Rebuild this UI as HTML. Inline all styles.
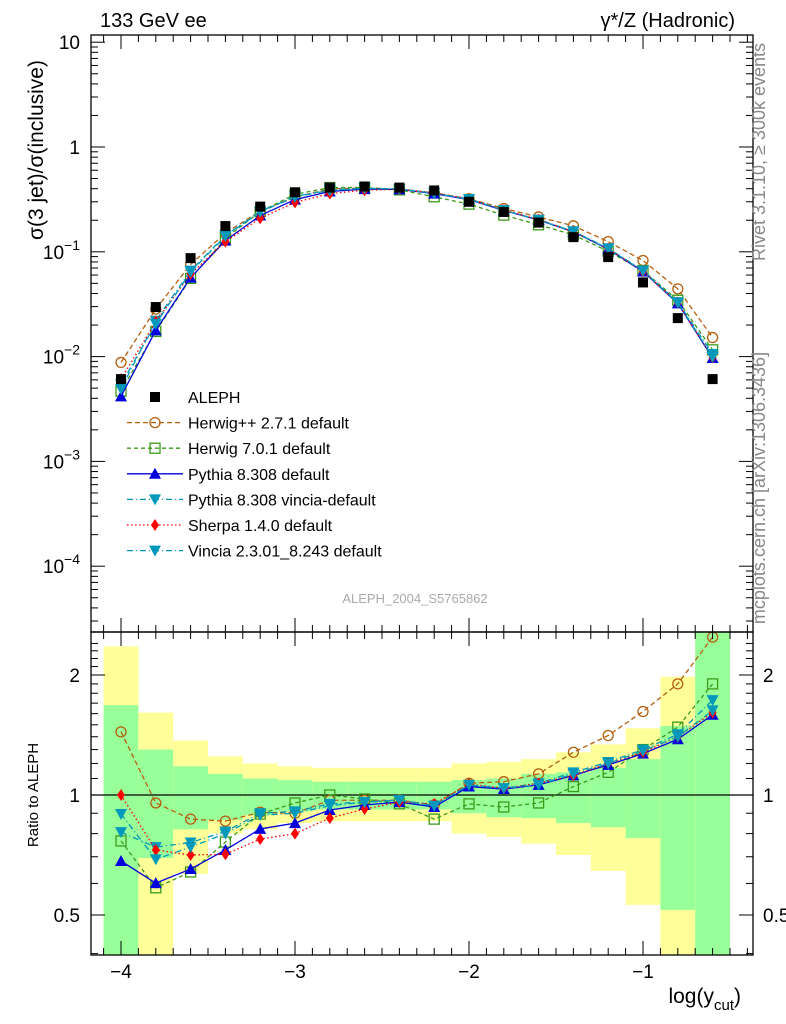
<!DOCTYPE html>
<html><head><meta charset="utf-8"><style>
body{margin:0;background:#fff}
svg{display:block;font-family:"Liberation Sans",sans-serif}
</style></head><body>
<svg id="c" width="786" height="1024"></svg>
<script>
const xs=[-4,-3.8,-3.6,-3.4,-3.2,-3.0,-2.8,-2.6,-2.4,-2.2,-2.0,-1.8,-1.6,-1.4,-1.2,-1.0,-0.8,-0.6];
const aleph=[0.0061,0.0297,0.087,0.176,0.27,0.37,0.41,0.42,0.41,0.385,0.30,0.24,0.19,0.138,0.089,0.051,0.0233,0.0061];
const herwigpp=[0.0088,0.0284,0.0757,0.151,0.244,0.333,0.398,0.407,0.398,0.364,0.321,0.259,0.215,0.177,0.125,0.0826,0.0443,0.0152];
const herwig7=[0.00468,0.0174,0.0558,0.134,0.242,0.353,0.41,0.41,0.39,0.335,0.285,0.224,0.181,0.145,0.101,0.0663,0.0345,0.0116];
const pythia=[0.00417,0.0178,0.0567,0.128,0.222,0.315,0.376,0.396,0.394,0.359,0.315,0.248,0.201,0.155,0.106,0.0648,0.0322,0.0097];
const pvincia=[0.00492,0.022,0.0661,0.143,0.243,0.337,0.39,0.403,0.398,0.362,0.318,0.25,0.203,0.157,0.108,0.0663,0.0331,0.0106];
const sherpa=[0.0061,0.0216,0.0615,0.125,0.209,0.296,0.359,0.387,0.394,0.366,0.32,0.25,0.203,0.155,0.107,0.0653,0.0326,0.0098];
const vincia=[0.00547,0.0205,0.0644,0.141,0.240,0.333,0.385,0.403,0.398,0.362,0.318,0.25,0.201,0.156,0.107,0.0658,0.0326,0.0099];
const rHerwigpp=[1.44,0.955,0.87,0.86,0.905,0.9,0.97,0.97,0.97,0.945,1.07,1.08,1.13,1.28,1.41,1.62,1.90,2.49];
const rHerwig7=[0.767,0.585,0.641,0.762,0.896,0.955,1.0,0.977,0.95,0.87,0.95,0.933,0.955,1.05,1.14,1.30,1.48,1.90];
const rPythia=[0.683,0.601,0.652,0.728,0.822,0.85,0.917,0.944,0.96,0.933,1.05,1.035,1.06,1.12,1.19,1.27,1.38,1.59];
const rPvincia=[0.807,0.74,0.76,0.81,0.90,0.91,0.95,0.96,0.97,0.94,1.06,1.04,1.07,1.14,1.21,1.30,1.42,1.73];
const rSherpa=[1.0,0.728,0.707,0.71,0.775,0.80,0.875,0.922,0.96,0.95,1.065,1.04,1.07,1.12,1.2,1.28,1.40,1.61];
const rVincia=[0.896,0.69,0.74,0.80,0.89,0.90,0.94,0.96,0.97,0.94,1.06,1.04,1.06,1.13,1.20,1.29,1.40,1.63];
const statUp=[1.68,1.30,1.18,1.13,1.10,1.09,1.08,1.08,1.08,1.08,1.09,1.10,1.13,1.14,1.17,1.23,1.49,3.0];
const statDn=[0.3,0.695,0.82,0.866,0.89,0.91,0.92,0.92,0.92,0.92,0.90,0.88,0.875,0.85,0.83,0.78,0.515,0.3];
const totUp=[2.36,1.61,1.37,1.25,1.20,1.18,1.17,1.17,1.17,1.17,1.20,1.21,1.23,1.28,1.34,1.47,1.98,3.0];
const totDn=[0.3,0.3,0.634,0.80,0.82,0.85,0.86,0.86,0.86,0.86,0.80,0.785,0.755,0.707,0.645,0.53,0.3,0.3];
const xTicks=[-4,-3,-2,-1];
const xTickLabels=["\u22124","\u22123","\u22122","\u22121"];

const L=91,R=753,T=35,MB=632,B=955;
const X=v=>121+(v+4)*174;
const Y=v=>147-104.8*Math.log10(v);
const RY=v=>795-398.6*Math.log10(v);
const svg=document.getElementById('c');
const NS='http://www.w3.org/2000/svg';
function mk(tag,at,parent){const e=document.createElementNS(NS,tag);for(const k in at)e.setAttribute(k,at[k]);(parent||svg).appendChild(e);return e;}
function txt(s,at,parent){const e=mk('text',at,parent);e.textContent=s;return e;}

const gb=mk('g',{});


xs.forEach((x,i)=>{
  const x0=Math.max(X(x-0.1),L),x1=Math.min(X(x+0.1),R);
  const clip=v=>Math.min(Math.max(v,MB),B);
  const ty=clip(RY(totUp[i])),tb=clip(RY(totDn[i]));
  const y=mk('rect',{x:x0,y:ty,width:x1-x0,height:tb-ty,fill:'#ffff99'},gb);
  
  
  const sy=clip(RY(statUp[i])),sb=clip(RY(statDn[i]));
  const g=mk('rect',{x:x0,y:sy,width:x1-x0,height:sb-sy,fill:'#99ff99'},gb);
  
  
});
mk('line',{x1:L,x2:R,y1:RY(1),y2:RY(1),stroke:'#000','stroke-width':1.3});

function marker(type,cx,cy,col,parent){
  const s=5;
  if(type==='sq') return mk('rect',{x:cx-s,y:cy-s,width:2*s,height:2*s,fill:'#000'},parent);
  if(type==='osq') return mk('rect',{x:cx-s,y:cy-s,width:2*s,height:2*s,fill:'none',stroke:col,'stroke-width':1.3},parent);
  if(type==='oc') return mk('circle',{cx,cy,r:s,fill:'none',stroke:col,'stroke-width':1.3},parent);
  if(type==='tu') return mk('polygon',{points:`${cx},${cy-6} ${cx-6},${cy+5} ${cx+6},${cy+5}`,fill:col},parent);
  if(type==='td') return mk('polygon',{points:`${cx},${cy+6} ${cx-6},${cy-5} ${cx+6},${cy-5}`,fill:col},parent);
  if(type==='dm') return mk('polygon',{points:`${cx},${cy-6} ${cx-4},${cy} ${cx},${cy+6} ${cx+4},${cy}`,fill:col},parent);
}
const series=[
 {name:'herwigpp',label:'Herwig++ 2.7.1 default',d:herwigpp,r:rHerwigpp,col:'#b5600f',dash:'5,3',m:'oc'},
 {name:'herwig7',label:'Herwig 7.0.1 default',d:herwig7,r:rHerwig7,col:'#3a9a1a',dash:'4,3',m:'osq'},
 {name:'pythia',label:'Pythia 8.308 default',d:pythia,r:rPythia,col:'#0000dd',dash:'',m:'tu'},
 {name:'pythia-vincia',label:'Pythia 8.308 vincia-default',d:pvincia,r:rPvincia,col:'#0099bb',dash:'6,3,1,3',m:'td'},
 {name:'sherpa',label:'Sherpa 1.4.0 default',d:sherpa,r:rSherpa,col:'#ff0000',dash:'1.5,2.5',m:'dm'},
 {name:'vincia',label:'Vincia 2.3.01_8.243 default',d:vincia,r:rVincia,col:'#0099bb',dash:'6,3,1,3',m:'td'}
];
series.forEach(s=>{
  const g=mk('g',{});
  
  
  const att={fill:'none',stroke:s.col,'stroke-width':1.3};if(s.dash)att['stroke-dasharray']=s.dash;
  mk('polyline',Object.assign({points:xs.map((x,i)=>X(x)+','+Y(s.d[i])).join(' ')},att),g);
  mk('polyline',Object.assign({points:xs.map((x,i)=>X(x)+','+RY(s.r[i])).join(' ')},att),g);
  xs.forEach((x,i)=>{
    const p=marker(s.m,X(x),Y(s.d[i]),s.col,g);
    
    
    const q=marker(s.m,X(x),RY(s.r[i]),s.col,g);
    
    
  });
});
const ga=mk('g',{});


xs.forEach((x,i)=>{const p=marker('sq',X(x),Y(aleph[i]),'#000',ga);
  
  });

mk('rect',{x:L,y:T,width:R-L,height:MB-T,fill:'none',stroke:'#000','stroke-width':1.3});
mk('rect',{x:L,y:MB,width:R-L,height:B-MB,fill:'none',stroke:'#000','stroke-width':1.3});
for(let k=-41;k<=-4;k++){const v=k/10;const px=X(v);if(px<L||px>R)continue;const maj=k%10===0;const len=maj?14:7;
  [[T,1],[MB,-1],[MB,1],[B,-1]].forEach(([y0,dir])=>mk('line',{x1:px,x2:px,y1:y0,y2:y0+dir*len,stroke:'#000','stroke-width':1}));}
xTicks.forEach((v,i)=>{const t=txt(xTickLabels[i],{x:X(v),y:978,'font-size':19,'text-anchor':'middle'});
  });
for(let e=-5;e<=1;e++){for(let m=1;m<=9;m++){const v=m*Math.pow(10,e);const py=Y(v);if(py<T||py>MB)continue;const len=m===1?14:7;
  mk('line',{x1:L,x2:L+len,y1:py,y2:py,stroke:'#000','stroke-width':1});
  mk('line',{x1:R,x2:R-len,y1:py,y2:py,stroke:'#000','stroke-width':1});}}
const yl=[[1,'10',''],[0,'1',''],[-1,'10','\u22121'],[-2,'10','\u22122'],[-3,'10','\u22123'],[-4,'10','\u22124']];
yl.forEach(([e,b,s])=>{const py=Y(Math.pow(10,e));
  const t=txt('',{x:80,y:py+7,'font-size':19,'text-anchor':'end'});
  
  const a=mk('tspan',{},t);a.textContent=b;
  if(s){const c=mk('tspan',{dy:-9,'font-size':14},t);c.textContent=s;}});
for(let v=0.4;v<=2.5;v+=0.1){const vv=Math.round(v*10)/10;const py=RY(vv);if(py<MB||py>B)continue;const maj=(vv===0.5||vv===1||vv===2);const len=maj?14:7;
  mk('line',{x1:L,x2:L+len,y1:py,y2:py,stroke:'#000','stroke-width':1});
  mk('line',{x1:R,x2:R-len,y1:py,y2:py,stroke:'#000','stroke-width':1});}
[[2,'2'],[1,'1'],[0.5,'0.5']].forEach(([v,s])=>{
  const a=txt(s,{x:80,y:RY(v)+7,'font-size':19,'text-anchor':'end'});
  
  const b=txt(s,{x:763,y:RY(v)+7,'font-size':19});
  });

const lg=mk('g',{});


const ly0=397,dy=25.6;
marker('sq',155,ly0,'#000',lg);
txt('ALEPH',{x:188,y:ly0+6,'font-size':16},lg);
series.forEach((s,i)=>{const y=ly0+dy*(i+1);
  const att={stroke:s.col,'stroke-width':1.3};if(s.dash)att['stroke-dasharray']=s.dash;
  mk('line',Object.assign({x1:127,x2:183,y1:y,y2:y},att),lg);
  marker(s.m,155,y,s.col,lg);
  const t=txt(s.label,{x:188,y:y+6,'font-size':16},lg);
  });
</script>
<svg width="786" height="1024" style="position:absolute;left:0;top:0">
<text x="100" y="27" font-size="20" font-family="Liberation Sans">133 GeV ee</text>
<text x="735" y="27" font-size="20" font-family="Liberation Sans" text-anchor="end">γ*/Z (Hadronic)</text>
<text transform="translate(43,150) rotate(-90)" font-size="21" font-family="Liberation Sans" text-anchor="middle">σ(3 jet)/σ(inclusive)</text>
<text transform="translate(38,795) rotate(-90)" font-size="15" font-family="Liberation Sans" text-anchor="middle">Ratio to ALEPH</text>
<text transform="translate(765,152) rotate(-90)" font-size="18" fill="#888" font-family="Liberation Sans" text-anchor="middle">Rivet 3.1.10, ≥ 300k events</text>
<text transform="translate(765,488) rotate(-90)" font-size="18" fill="#888" font-family="Liberation Sans" text-anchor="middle">mcplots.cern.ch [arXiv:1306.3436]</text>
<text x="415" y="603" font-size="13" fill="#aaa" font-family="Liberation Sans" text-anchor="middle">ALEPH_2004_S5765862</text>
<text x="741" y="1003" font-size="21" font-family="Liberation Sans" text-anchor="end">log(y<tspan dy="7" font-size="15">cut</tspan><tspan dy="-7">)</tspan></text>
</svg>
</body></html>
